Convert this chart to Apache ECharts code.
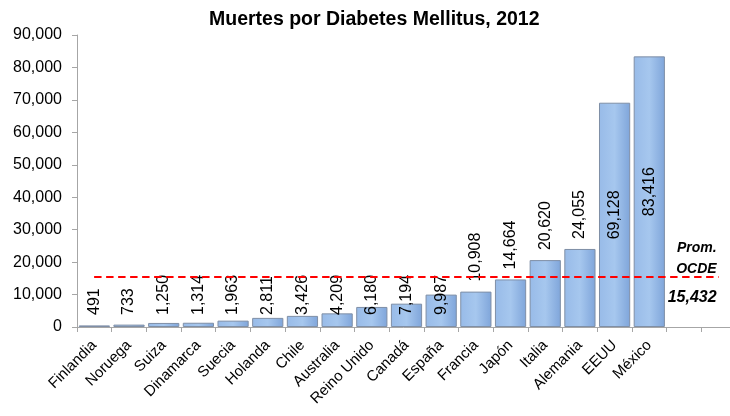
<!DOCTYPE html>
<html>
<head>
<meta charset="utf-8">
<script src="https://cdn.jsdelivr.net/npm/echarts@6/dist/echarts.min.js"></script>
<style>html,body{margin:0;padding:0;background:#fff}#c{width:730px;height:416px}</style>
</head>
<body>
<div id="c"></div>
<script>
var titleText = 'Muertes por Diabetes Mellitus, 2012';
var categories = ['Finlandia','Noruega','Suiza','Dinamarca','Suecia','Holanda','Chile','Australia','Reino Unido','Canadá','España','Francia','Japón','Italia','Alemania','EEUU','México','',''];
var deaths = [491,733,1250,1314,1963,2811,3426,4209,6180,7194,9987,10908,14664,20620,24055,69128,83416];
var oecdAverage = 15432;
var avgLabel = 'Prom.\nOCDE';
var yMin = 0, yMax = 90000, yStep = 10000;

var FONT = 'Liberation Sans';
function fmt(v){ return v.toLocaleString('en-US'); }

function labelFor(v){
  var base = {show:true, rotate:90, fontFamily:FONT, fontSize:16, color:'#000', formatter:function(p){return fmt(p.value);}};
  if (v < 10000) { base.position = 'insideBottom'; base.align = 'left'; base.verticalAlign = 'middle'; base.distance = 12; }
  else if (v > 50000) { base.position = 'inside'; base.align = 'center'; base.verticalAlign = 'middle'; }
  else { base.position = 'top'; base.align = 'left'; base.verticalAlign = 'middle'; base.distance = 10; }
  return base;
}

var barData = deaths.map(function(v){ return {value:v, label:labelFor(v)}; });

var chart = echarts.init(document.getElementById('c'));
chart.setOption({
  animation:false,
  title:{text:titleText, left:204, top:5, textStyle:{fontFamily:FONT, fontSize:19.5, fontWeight:'bold', color:'#000'}},
  grid:{left:77, width:659, top:35, bottom:89, containLabel:false, outerBoundsMode:'none'},
  xAxis:{
    type:'category', data:categories,
    axisLine:{lineStyle:{color:'#a6a6a6', width:1}},
    axisTick:{show:true, alignWithLabel:false, length:5, lineStyle:{color:'#a6a6a6'}},
    axisLabel:{interval:0, rotate:45, margin:16, fontFamily:FONT, fontSize:15, color:'#000'}
  },
  yAxis:{
    type:'value', min:yMin, max:yMax, interval:yStep,
    splitLine:{show:false},
    axisLine:{show:true, lineStyle:{color:'#a6a6a6', width:1}},
    axisTick:{show:true, length:5, lineStyle:{color:'#a6a6a6'}},
    axisLabel:{margin:15, fontFamily:FONT, fontSize:16, color:'#000', formatter:function(v){return fmt(v);}}
  },
  series:[{
    type:'bar', data:barData, barCategoryGap:'10%',
    itemStyle:{
      color:new echarts.graphic.LinearGradient(0,0,1,0,[
        {offset:0, color:'#98bbe8'},{offset:0.5, color:'#a6c7ee'},{offset:1, color:'#7fa5da'}]),
      borderColor:'#7f8fa6', borderWidth:1
    },
    markLine:{
      silent:true, symbol:'none',
      lineStyle:{color:'#ff0000', type:[7,5], width:2},
      data:[
        [{coord:[0, oecdAverage], label:{show:true, position:'insideEndTop', formatter:avgLabel, fontFamily:FONT, fontSize:14, fontStyle:'italic', fontWeight:'bold', color:'#000', align:'right', lineHeight:21, distance:[2,-3]}},
         {coord:[categories.length-1, oecdAverage]}],
        [{coord:[0, oecdAverage], label:{show:true, position:'insideEndBottom', formatter:fmt(oecdAverage), fontFamily:FONT, fontSize:16, fontStyle:'italic', fontWeight:'bold', color:'#000', align:'right', distance:[2,13]}},
         {coord:[categories.length-1, oecdAverage]}]
      ]
    }
  }]
});
</script>
</body>
</html>
